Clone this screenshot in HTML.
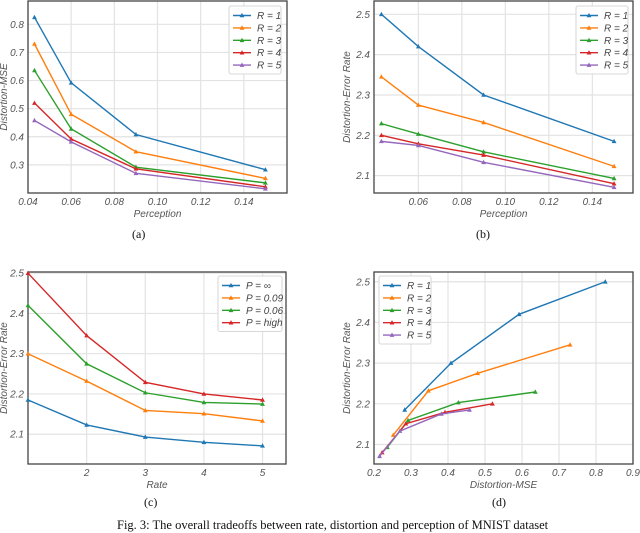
<!DOCTYPE html>
<html><head><meta charset="utf-8">
<style>
body{margin:0;background:#fff;width:640px;height:524px;overflow:hidden;position:relative}
svg{position:absolute;left:0;top:0}
.cap{position:absolute;font-family:"Liberation Serif",serif;font-size:12px;color:#111}
</style></head>
<body>
<svg id="fig" width="640" height="524"></svg>
<div class="cap" style="left:132px;top:227px">(a)</div>
<div class="cap" style="left:476px;top:227px">(b)</div>
<div class="cap" style="left:144px;top:495px">(c)</div>
<div class="cap" style="left:492px;top:495px">(d)</div>
<div class="cap" style="left:117px;top:518px;white-space:nowrap;font-size:12.5px">Fig. 3: The overall tradeoffs between rate, distortion and perception of MNIST dataset</div>
<script>
const percX=[0.043,0.06,0.09,0.15];
const mseR1=[0.825,0.592,0.408,0.283];
const mseR2=[0.73,0.48,0.347,0.252];
const mseR3=[0.636,0.428,0.292,0.236];
const mseR4=[0.52,0.392,0.286,0.222];
const mseR5=[0.458,0.382,0.27,0.215];
const errR1=[2.5,2.42,2.3,2.185];
const errR2=[2.345,2.275,2.232,2.123];
const errR3=[2.229,2.203,2.159,2.093];
const errR4=[2.2,2.179,2.151,2.08];
const errR5=[2.185,2.175,2.133,2.071];
const rateX=[1,2,3,4,5];
const pInf=[2.185,2.123,2.093,2.08,2.071];
const p009=[2.3,2.232,2.159,2.151,2.133];
const p006=[2.42,2.275,2.203,2.179,2.175];
const pHigh=[2.5,2.345,2.229,2.2,2.185];
const rLabels=["R = 1","R = 2","R = 3","R = 4","R = 5"];
const pLabels=["P = ∞","P = 0.09","P = 0.06","P = high"];
const ticksA_x=[0.04,0.06,0.08,0.10,0.12,0.14];
const ticksA_y=[0.3,0.4,0.5,0.6,0.7,0.8];
const ticksB_x=[0.06,0.08,0.10,0.12,0.14];
const ticksB_y=[2.1,2.2,2.3,2.4,2.5];
const ticksC_x=[2,3,4,5];
const ticksD_x=[0.2,0.3,0.4,0.5,0.6,0.7,0.8,0.9];
const colors=["#1f77b4","#ff7f0e","#2ca02c","#d62728","#9467bd"];
const NS="http://www.w3.org/2000/svg";
const svg=document.getElementById('fig');
function mk(tag,attrs,parent){const e=document.createElementNS(NS,tag);for(const k in attrs)e.setAttribute(k,attrs[k]);(parent||svg).appendChild(e);return e;}
function chart(o){
  const g=mk('g',{});
  
  
  const sx=v=>o.x0+(v-o.xd[0])/(o.xd[1]-o.xd[0])*(o.x1-o.x0);
  const sy=v=>o.y1-(v-o.yd[0])/(o.yd[1]-o.yd[0])*(o.y1-o.y0);
  mk('rect',{x:o.x0,y:o.y0,width:o.x1-o.x0,height:o.y1-o.y0,fill:'#fff'},g);
  o.xt.forEach(t=>{const x=sx(t);
    const l=mk('line',{x1:x,x2:x,y1:o.y0,y2:o.y1,stroke:'#e3e3e3','stroke-width':1.2},g);
    
    
    const tx=mk('text',{x:x,y:o.y1+12,'text-anchor':'middle','font-size':10,fill:'#555','font-style':'italic','font-family':'Liberation Sans, sans-serif'},g);
    tx.textContent=o.xf(t);
    
    });
  o.yt.forEach(t=>{const y=sy(t);
    const l=mk('line',{x1:o.x0,x2:o.x1,y1:y,y2:y,stroke:'#e3e3e3','stroke-width':1.2},g);
    
    
    const tx=mk('text',{x:o.x0-4,y:y+3.5,'text-anchor':'end','font-size':10,fill:'#555','font-style':'italic','font-family':'Liberation Sans, sans-serif'},g);
    tx.textContent=t.toFixed(1);
    
    });
  const b=mk('rect',{x:o.x0,y:o.y0,width:o.x1-o.x0,height:o.y1-o.y0,fill:'none',stroke:'#444','stroke-width':1.3},g);
  
  
  const xl=mk('text',{x:(o.x0+o.x1)/2,y:o.y1+24,'text-anchor':'middle','font-size':10,fill:'#555','font-style':'italic','font-family':'Liberation Sans, sans-serif'},g);
  xl.textContent=o.xlabel;
  
  
  const yc=(o.y0+o.y1)/2;
  const yl=mk('text',{x:o.ylx,y:yc,'text-anchor':'middle','font-size':10,fill:'#555','font-style':'italic','font-family':'Liberation Sans, sans-serif',transform:`rotate(-90 ${o.ylx} ${yc})`},g);
  yl.textContent=o.ylabel;
  
  
  o.series.forEach((s,i)=>{
    const xs=s.x, ys=s.y;
    const pts=xs.map((v,j)=>sx(v)+','+sy(ys[j])).join(' ');
    const pl=mk('polyline',{points:pts,fill:'none',stroke:colors[i],'stroke-width':1.4},g);
    
    
    xs.forEach((v,j)=>{const cx=sx(v),cy=sy(ys[j]);
      const m=mk('polygon',{points:`${cx},${cy-2.6} ${cx-2.4},${cy+1.8} ${cx+2.4},${cy+1.8}`,fill:colors[i]},g);
      
      });
  });
  const L=o.leg;
  const lg=mk('g',{},g);
  
  
  mk('rect',{x:L.x,y:L.y,width:L.w,height:o.labels.length*12.4+6,fill:'#fff',stroke:'#ccc','stroke-width':0.8,rx:2},lg);
  o.labels.forEach((t,i)=>{const y=L.y+9.5+i*12.4;
    mk('line',{x1:L.x+4,x2:L.x+22,y1:y,y2:y,stroke:colors[i],'stroke-width':1.4},lg);
    mk('polygon',{points:`${L.x+13},${y-2.6} ${L.x+10.6},${y+1.8} ${L.x+15.4},${y+1.8}`,fill:colors[i]},lg);
    const tx=mk('text',{x:L.x+L.tx,y:y+3.5,'font-size':10,fill:'#444','font-style':'italic','font-family':'Liberation Sans, sans-serif'},lg);
    tx.textContent=t;
    
    });
}
const f2=v=>v.toFixed(2);
chart({name:'chart-a',x0:28,x1:287,y0:1,y1:193,xd:[0.04,0.16],yd:[0.2,0.883],xt:ticksA_x,yt:ticksA_y,xf:f2,
  xlabel:'Perception',ylabel:'Distortion-MSE',ylx:7,
  series:[mseR1,mseR2,mseR3,mseR4,mseR5].map(y=>({x:percX,y})),labels:rLabels,leg:{x:229,y:6,w:52,tx:28}});
chart({name:'chart-b',x0:374,x1:633,y0:1,y1:193,xd:[0.0396,0.1587],yd:[2.057,2.533],xt:ticksB_x,yt:ticksB_y,xf:f2,
  xlabel:'Perception',ylabel:'Distortion-Error Rate',ylx:350,
  series:[errR1,errR2,errR3,errR4,errR5].map(y=>({x:percX,y})),labels:rLabels,leg:{x:576,y:6,w:52,tx:28}});
chart({name:'chart-c',x0:28,x1:286,y0:272,y1:464,xd:[1,5.4],yd:[2.026,2.503],xt:ticksC_x,yt:ticksB_y,xf:v=>String(v),
  xlabel:'Rate',ylabel:'Distortion-Error Rate',ylx:7,
  series:[pInf,p009,p006,pHigh].map(y=>({x:rateX,y})),labels:pLabels,leg:{x:218,y:276,w:64,tx:28}});
chart({name:'chart-d',x0:374,x1:633,y0:272,y1:464,xd:[0.2,0.9],yd:[2.052,2.524],xt:ticksD_x,yt:ticksB_y,xf:v=>v.toFixed(1),
  xlabel:'Distortion-MSE',ylabel:'Distortion-Error Rate',ylx:350,
  series:[[mseR1,errR1],[mseR2,errR2],[mseR3,errR3],[mseR4,errR4],[mseR5,errR5]].map(p=>({x:p[0],y:p[1]})),labels:rLabels,leg:{x:379,y:276,w:52,tx:28}});
</script>
</body></html>
